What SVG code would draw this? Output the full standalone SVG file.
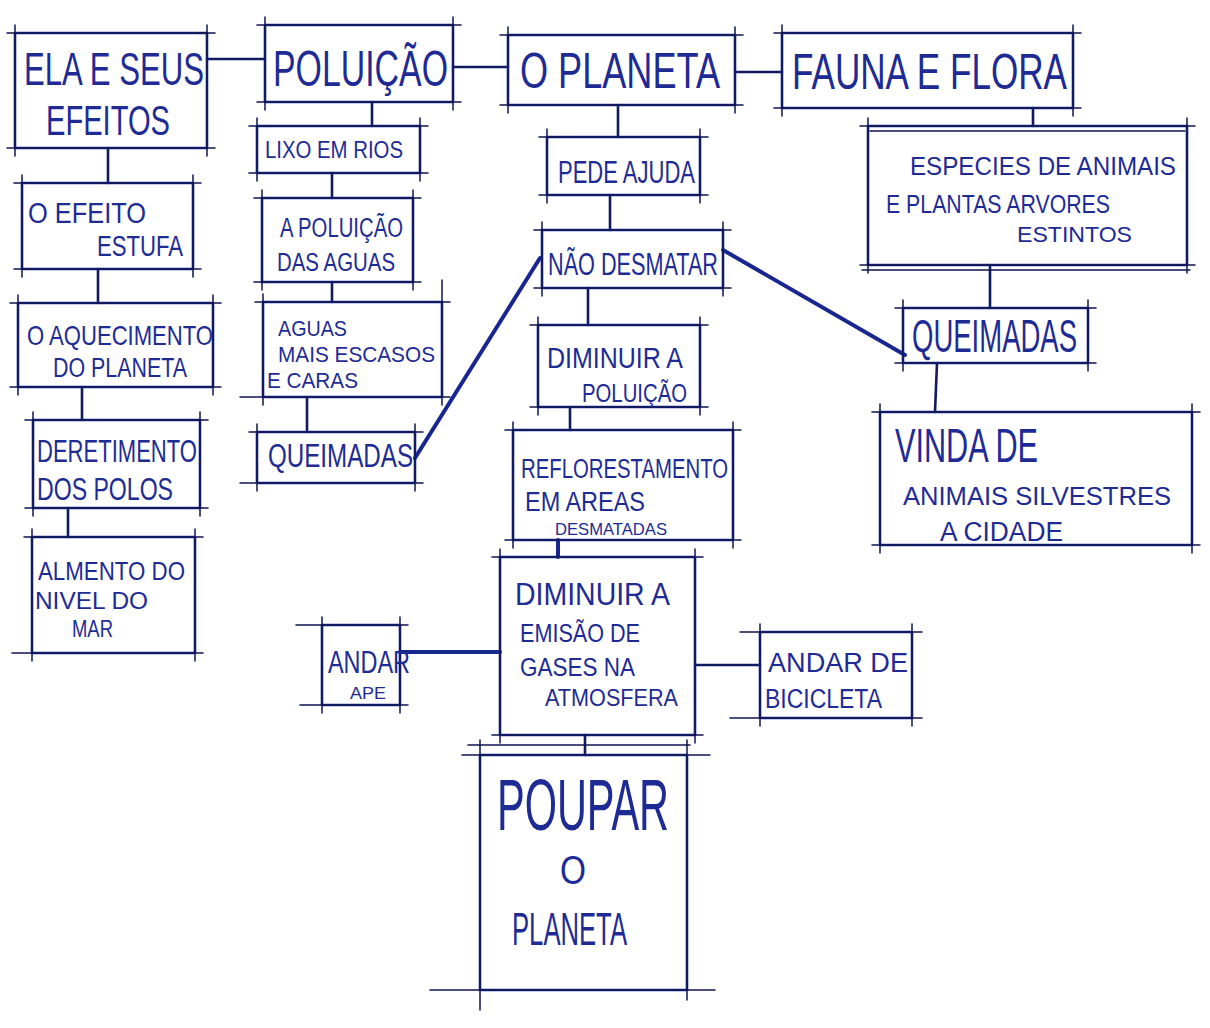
<svg xmlns="http://www.w3.org/2000/svg" width="1210" height="1028" viewBox="0 0 1210 1028">
<style>
.bx{fill:none;stroke:#1c2a92;stroke-width:2.6;stroke-linejoin:round}
.ov{fill:none;stroke:#0e1552;stroke-width:1.5;stroke-linecap:round}
.t{font-family:"Liberation Sans",Arial,sans-serif;fill:#1e2b95}
.c{fill:none;stroke:#111a5e;stroke-width:2.6;stroke-linecap:round}
.cd{fill:none;stroke:#1a2690;stroke-width:4;stroke-linecap:round}
</style>
<rect width="1210" height="1028" fill="#ffffff"/>
<g id="connectors">
<path class="c" d="M207 59H265M453 67H508M735 72H782M1033 108V126M990 265V308M937 363L935 412M108 148V183M98 269V303M82 387V420M68 508V537M372 102V126M332 173V198M332 282V302M307 397V432M618 105V137M610 195V230M588 288V325M570 407V430M695 665H760M585 735V755"/>
<path class="cd" d="M558 540V557M400 652H500"/>
<path class="cd" d="M415 458L540 258M723 250L905 355"/>
</g>
<g id="n1"><rect class="bx" x="15" y="33" width="192" height="115"/><path class="ov" d="M7 33H215M7 148H215M15 25V156M207 25V156"/>
<text class="t" x="24" y="85" font-size="46" textLength="180" lengthAdjust="spacingAndGlyphs">ELA E SEUS</text>
<text class="t" x="46" y="135" font-size="42" textLength="124" lengthAdjust="spacingAndGlyphs">EFEITOS</text></g>
<g id="n2"><rect class="bx" x="265" y="25" width="188" height="77"/><path class="ov" d="M257 25H461M257 102H461M265 17V110M453 17V110"/>
<text class="t" x="273" y="86" font-size="50" textLength="175" lengthAdjust="spacingAndGlyphs">POLUIÇÃO</text></g>
<g id="n3"><rect class="bx" x="508" y="35" width="227" height="70"/><path class="ov" d="M500 35H743M500 105H743M508 27V113M735 27V113"/>
<text class="t" x="520" y="88" font-size="50" textLength="200" lengthAdjust="spacingAndGlyphs">O PLANETA</text></g>
<g id="n4"><rect class="bx" x="782" y="33" width="291" height="75"/><path class="ov" d="M774 33H1081M774 108H1081M782 25V116M1073 25V116"/>
<text class="t" x="792" y="89" font-size="50" textLength="275" lengthAdjust="spacingAndGlyphs">FAUNA E FLORA</text></g>
<g id="n5"><rect class="bx" x="868" y="126" width="319" height="139"/><path class="ov" d="M860 126H1195M860 265H1195M868 118V273M1187 118V273M870 131H1185M862 270H1190"/>
<text class="t" x="910" y="175" font-size="25" textLength="266" lengthAdjust="spacingAndGlyphs">ESPECIES DE ANIMAIS</text>
<text class="t" x="886" y="213" font-size="25" textLength="224" lengthAdjust="spacingAndGlyphs">E PLANTAS ARVORES</text>
<text class="t" x="1017" y="242" font-size="22" textLength="115" lengthAdjust="spacingAndGlyphs">ESTINTOS</text></g>
<g id="n6"><rect class="bx" x="903" y="308" width="185" height="55"/><path class="ov" d="M895 308H1096M895 363H1096M903 300V371M1088 300V371"/>
<text class="t" x="912" y="352" font-size="46" textLength="165" lengthAdjust="spacingAndGlyphs">QUEIMADAS</text></g>
<g id="n7"><rect class="bx" x="880" y="412" width="312" height="133"/><path class="ov" d="M872 412H1200M872 545H1200M880 404V553M1192 404V553"/>
<text class="t" x="895" y="462" font-size="48" textLength="143" lengthAdjust="spacingAndGlyphs">VINDA DE</text>
<text class="t" x="903" y="505" font-size="26" textLength="268" lengthAdjust="spacingAndGlyphs">ANIMAIS SILVESTRES</text>
<text class="t" x="940" y="541" font-size="27" textLength="123" lengthAdjust="spacingAndGlyphs">A CIDADE</text></g>
<g id="n8"><rect class="bx" x="22" y="183" width="171" height="86"/><path class="ov" d="M14 183H201M14 269H201M22 175V277M193 175V277"/>
<text class="t" x="28" y="223" font-size="29" textLength="118" lengthAdjust="spacingAndGlyphs">O EFEITO</text>
<text class="t" x="97" y="256" font-size="29" textLength="86" lengthAdjust="spacingAndGlyphs">ESTUFA</text></g>
<g id="n9"><rect class="bx" x="18" y="303" width="195" height="84"/><path class="ov" d="M10 303H221M10 387H221M18 295V395M213 295V395"/>
<text class="t" x="27" y="345" font-size="28" textLength="186" lengthAdjust="spacingAndGlyphs">O AQUECIMENTO</text>
<text class="t" x="53" y="377" font-size="27" textLength="134" lengthAdjust="spacingAndGlyphs">DO PLANETA</text></g>
<g id="n10"><rect class="bx" x="33" y="420" width="167" height="88"/><path class="ov" d="M25 420H208M25 508H208M33 412V516M200 412V516"/>
<text class="t" x="37" y="462" font-size="31" textLength="160" lengthAdjust="spacingAndGlyphs">DERETIMENTO</text>
<text class="t" x="37" y="500" font-size="31" textLength="136" lengthAdjust="spacingAndGlyphs">DOS POLOS</text></g>
<g id="n11"><rect class="bx" x="32" y="537" width="163" height="116"/><path class="ov" d="M24 537H203M12 653H203M32 529V661M195 529V661"/>
<text class="t" x="38" y="580" font-size="26" textLength="147" lengthAdjust="spacingAndGlyphs">ALMENTO DO</text>
<text class="t" x="35" y="609" font-size="24" textLength="113" lengthAdjust="spacingAndGlyphs">NIVEL DO</text>
<text class="t" x="72" y="637" font-size="23" textLength="41" lengthAdjust="spacingAndGlyphs">MAR</text></g>
<g id="n12"><rect class="bx" x="257" y="126" width="163" height="47"/><path class="ov" d="M249 126H428M249 173H428M257 118V181M420 118V181"/>
<text class="t" x="265" y="158" font-size="24" textLength="138" lengthAdjust="spacingAndGlyphs">LIXO EM RIOS</text></g>
<g id="n13"><rect class="bx" x="262" y="198" width="151" height="84"/><path class="ov" d="M254 198H421M254 282H421M262 190V290M413 190V290"/>
<text class="t" x="280" y="237" font-size="27" textLength="123" lengthAdjust="spacingAndGlyphs">A POLUIÇÃO</text>
<text class="t" x="277" y="271" font-size="25" textLength="118" lengthAdjust="spacingAndGlyphs">DAS AGUAS</text></g>
<g id="n14"><rect class="bx" x="263" y="302" width="179" height="95"/><path class="ov" d="M255 302H450M240 397H450M263 294V405M442 280V405"/>
<text class="t" x="278" y="336" font-size="22" textLength="69" lengthAdjust="spacingAndGlyphs">AGUAS</text>
<text class="t" x="278" y="362" font-size="22" textLength="157" lengthAdjust="spacingAndGlyphs">MAIS ESCASOS</text>
<text class="t" x="267" y="388" font-size="22" textLength="91" lengthAdjust="spacingAndGlyphs">E CARAS</text></g>
<g id="n15"><rect class="bx" x="257" y="432" width="158" height="51"/><path class="ov" d="M249 432H423M240 483H423M257 424V491M415 424V491"/>
<text class="t" x="268" y="467" font-size="34" textLength="145" lengthAdjust="spacingAndGlyphs">QUEIMADAS</text></g>
<g id="n16"><rect class="bx" x="547" y="137" width="153" height="58"/><path class="ov" d="M539 137H708M539 195H708M547 129V203M700 129V203"/>
<text class="t" x="558" y="183" font-size="32" textLength="137" lengthAdjust="spacingAndGlyphs">PEDE AJUDA</text></g>
<g id="n17"><rect class="bx" x="542" y="230" width="181" height="58"/><path class="ov" d="M534 230H731M534 288H731M542 222V296M723 222V296"/>
<text class="t" x="548" y="275" font-size="32" textLength="170" lengthAdjust="spacingAndGlyphs">NÃO DESMATAR</text></g>
<g id="n18"><rect class="bx" x="538" y="325" width="162" height="82"/><path class="ov" d="M530 325H708M530 407H708M538 317V415M700 317V415"/>
<text class="t" x="547" y="368" font-size="30" textLength="136" lengthAdjust="spacingAndGlyphs">DIMINUIR A</text>
<text class="t" x="582" y="402" font-size="26" textLength="105" lengthAdjust="spacingAndGlyphs">POLUIÇÃO</text></g>
<g id="n19"><rect class="bx" x="513" y="430" width="220" height="110"/><path class="ov" d="M505 430H741M505 540H741M513 422V548M733 422V548"/>
<text class="t" x="521" y="478" font-size="27" textLength="207" lengthAdjust="spacingAndGlyphs">REFLORESTAMENTO</text>
<text class="t" x="525" y="511" font-size="27" textLength="120" lengthAdjust="spacingAndGlyphs">EM AREAS</text>
<text class="t" x="555" y="535" font-size="17" textLength="112" lengthAdjust="spacingAndGlyphs">DESMATADAS</text></g>
<g id="n20"><rect class="bx" x="500" y="557" width="195" height="178"/><path class="ov" d="M492 557H703M492 735H703M500 549V743M695 549V743"/>
<text class="t" x="515" y="605" font-size="32" textLength="155" lengthAdjust="spacingAndGlyphs">DIMINUIR A</text>
<text class="t" x="520" y="642" font-size="26" textLength="120" lengthAdjust="spacingAndGlyphs">EMISÃO DE</text>
<text class="t" x="520" y="676" font-size="25" textLength="115" lengthAdjust="spacingAndGlyphs">GASES NA</text>
<text class="t" x="545" y="706" font-size="23" textLength="133" lengthAdjust="spacingAndGlyphs">ATMOSFERA</text></g>
<g id="n21"><rect class="bx" x="322" y="625" width="78" height="80"/><path class="ov" d="M296 625H408M300 705H408M322 617V713M400 617V713"/>
<text class="t" x="328" y="673" font-size="32" textLength="82" lengthAdjust="spacingAndGlyphs">ANDAR</text>
<text class="t" x="350" y="699" font-size="17" textLength="36" lengthAdjust="spacingAndGlyphs">APE</text></g>
<g id="n22"><rect class="bx" x="760" y="632" width="152" height="86"/><path class="ov" d="M740 632H922M730 718H922M760 624V726M912 624V726"/>
<text class="t" x="768" y="672" font-size="27" textLength="140" lengthAdjust="spacingAndGlyphs">ANDAR DE</text>
<text class="t" x="765" y="708" font-size="27" textLength="117" lengthAdjust="spacingAndGlyphs">BICICLETA</text></g>
<g id="n23"><rect class="bx" x="480" y="755" width="207" height="235"/><path class="ov" d="M462 755H710M430 990H715M480 740V1010M687 740V1000M468 745H690"/>
<text class="t" x="497" y="830" font-size="72" textLength="172" lengthAdjust="spacingAndGlyphs">POUPAR</text>
<text class="t" x="560" y="884" font-size="40" textLength="26" lengthAdjust="spacingAndGlyphs">O</text>
<text class="t" x="512" y="945" font-size="46" textLength="115" lengthAdjust="spacingAndGlyphs">PLANETA</text></g>
</svg>
